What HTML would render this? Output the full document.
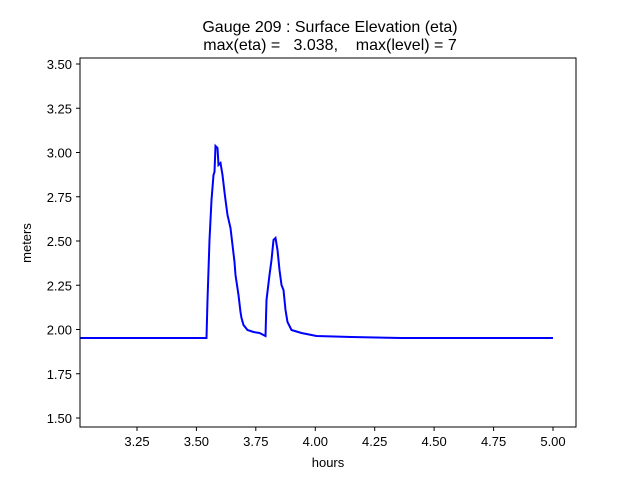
<!DOCTYPE html>
<html><head><style>body{margin:0;background:#fff}</style></head><body>
<svg width="640" height="480" xmlns="http://www.w3.org/2000/svg" font-family="Liberation Sans, DejaVu Sans, sans-serif">
<rect width="640" height="480" fill="#fff"/>
<text x="330" y="32" font-size="16" text-anchor="middle">Gauge 209 : Surface Elevation (eta)</text>
<text x="330" y="50" font-size="16" text-anchor="middle" xml:space="preserve">max(eta) =   3.038,    max(level) = 7</text>
<polyline transform="translate(1.5,0)" fill="none" stroke="#0000ff" stroke-width="2" points="78.5,338 205,338 206,300 208,240 210,200 212,175 213,172 214,146 216,148 217,165 219,163 221,175 223,192 224,200 226,215 229,228 231,245 233,262 234,275 237,295 239,312 240,318 242,325 246,330 252,332 258,333 264,336 265,300 268,275 270,260 272,240 274,238 276,250 278,270 280,285 282,290 284,310 286,322 290,330 300,333 315,336 350,337 400,338 551.5,338"/>
<rect x="80" y="58" width="496" height="369" fill="none" stroke="#000" stroke-width="1"/>
<g stroke="#000">
<line x1="137" y1="427" x2="137" y2="431"/><line x1="196.4" y1="427" x2="196.4" y2="431"/><line x1="255.8" y1="427" x2="255.8" y2="431"/><line x1="315.3" y1="427" x2="315.3" y2="431"/><line x1="374.7" y1="427" x2="374.7" y2="431"/><line x1="434.1" y1="427" x2="434.1" y2="431"/><line x1="493.6" y1="427" x2="493.6" y2="431"/><line x1="553" y1="427" x2="553" y2="431"/>
<line x1="76" y1="418" x2="80" y2="418"/><line x1="76" y1="373.75" x2="80" y2="373.75"/><line x1="76" y1="329.5" x2="80" y2="329.5"/><line x1="76" y1="285.25" x2="80" y2="285.25"/><line x1="76" y1="241" x2="80" y2="241"/><line x1="76" y1="196.75" x2="80" y2="196.75"/><line x1="76" y1="152.5" x2="80" y2="152.5"/><line x1="76" y1="108.25" x2="80" y2="108.25"/><line x1="76" y1="64" x2="80" y2="64"/>
</g>
<g font-size="13" text-anchor="middle">
<text x="137" y="446">3.25</text><text x="196.4" y="446">3.50</text><text x="255.8" y="446">3.75</text><text x="315.3" y="446">4.00</text><text x="374.7" y="446">4.25</text><text x="434.1" y="446">4.50</text><text x="493.6" y="446">4.75</text><text x="553" y="446">5.00</text>
<text x="328" y="467">hours</text>
</g>
<g font-size="13" text-anchor="end">
<text x="72" y="423">1.50</text><text x="72" y="378.75">1.75</text><text x="72" y="334.5">2.00</text><text x="72" y="290.25">2.25</text><text x="72" y="246">2.50</text><text x="72" y="201.75">2.75</text><text x="72" y="157.5">3.00</text><text x="72" y="113.25">3.25</text><text x="72" y="69">3.50</text>
</g>
<text transform="translate(31,243) rotate(-90)" font-size="13" text-anchor="middle">meters</text>
</svg>
</body></html>
